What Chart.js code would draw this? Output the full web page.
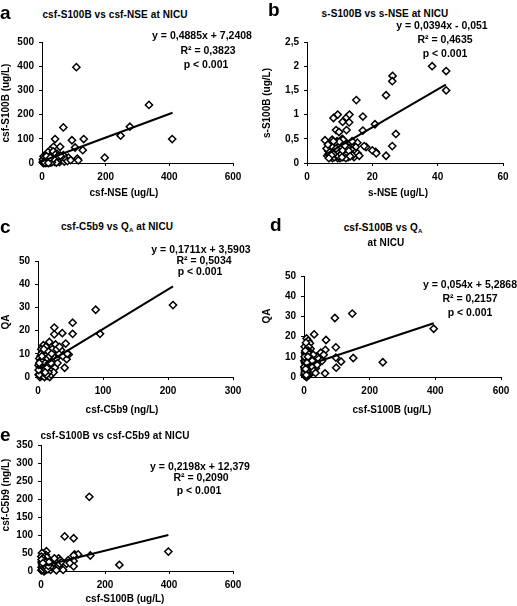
<!DOCTYPE html>
<html>
<head>
<meta charset="utf-8">
<script src="https://cdn.jsdelivr.net/npm/chart.js@4.4.0/dist/chart.umd.min.js"></script>
<style>
    html, body { margin: 0; padding: 0; width: 517px; height: 606px; overflow: hidden; background: #fff; }
    .txt {
        position: absolute; font-family: 'Liberation Sans', Arial, sans-serif; font-weight: bold;
        color: #000; white-space: nowrap; line-height: 1; transform: translate(-50%, -50%);
    }
    .ttl { font-size: 10px; letter-spacing: 0.1px; }
    .eq { font-size: 10.5px; }
    .ax { font-size: 10px; }
    .rot { transform: translate(-50%, -50%) rotate(-90deg); }
    .letter {
        position: absolute; font-family: 'Liberation Sans', Arial, sans-serif; font-weight: bold;
        font-size: 19px; line-height: 1;
    }
    sub { font-size: 6px; vertical-align: -2px; }
</style>
</head>
<body>
<script>
// --- data ---
// a: csf-NSE (x) vs csf-S100B (y)
const aPoints = [
    [108, 396], [336, 240], [276, 150], [247, 113], [409, 99], [197, 22], [67, 147], [131, 99],
    [94, 94], [41, 99], [104, 64], [128, 53], [57, 67], [111, 18], [114, 11], [83, 22], [36, 67],
    [26, 53], [47, 39], [67, 32], [5, 28], [2, 3], [4, 8], [6, 1], [8, 12], [10, 4], [12, 18],
    [14, 6], [16, 25], [18, 2], [20, 10], [22, 30], [24, 15], [27, 5], [30, 20], [32, 40], [34, 10],
    [38, 25], [40, 5], [44, 15], [48, 8], [52, 22], [55, 4], [60, 12], [64, 18], [70, 6], [75, 14],
    [3, 15], [9, 22], [15, 35], [19, 45], [28, 32], [35, 48], [42, 35], [50, 28], [58, 30], [25, 2],
    [12, 0], [5, 0], [45, 2], [80, 8], [90, 12], [7, 6], [11, 10], [17, 14], [21, 20], [23, 8],
    [29, 12], [31, 3], [36, 18], [9, 2], [14, 28], [20, 0], [26, 22]
];
const aTrend = [[0, 7.2], [410, 207.5]];
const aXTicks = ['0', '200', '400', '600'];
const aYTicks = ['0', '100', '200', '300', '400', '500'];

// b: s-NSE (x) vs s-S100B (y)
const bPoints = [
    [38.3, 2.0], [42.6, 1.9], [42.6, 1.5], [26.2, 1.8], [26.1, 1.69], [24.2, 1.4], [15.1, 1.3],
    [17.1, 0.96], [20.8, 0.8], [27.2, 0.6], [26.1, 0.35], [24.2, 0.15], [21, 0.23], [20, 0.26],
    [18.1, 0.33], [17.1, 0.67], [8.1, 0.93], [9.4, 1.0], [12.1, 0.94], [13.0, 1.0], [10.9, 0.85],
    [12.9, 0.84], [12.1, 0.68], [8.9, 0.68], [9.8, 0.64], [5.5, 0.47], [15.4, 0.42], [14.9, 0.33],
    [14.4, 0.23], [14.4, 0.12], [13.3, 0.37], [21.2, 0.2], [17.5, 0.35],
    [6.2, 0.15], [6.5, 0.25], [6.8, 0.35], [7, 0.12], [7.2, 0.2], [7.4, 0.3], [7.6, 0.42], [7.8, 0.1],
    [8, 0.18], [8.2, 0.26], [8.4, 0.38], [8.6, 0.14], [8.8, 0.22], [9, 0.32], [9.2, 0.45], [9.4, 0.1],
    [9.6, 0.2], [9.8, 0.28], [10, 0.4], [10.2, 0.14], [10.4, 0.24], [10.6, 0.34], [10.8, 0.5],
    [11, 0.12], [11.2, 0.2], [11.5, 0.3], [11.8, 0.16], [12, 0.26], [12.3, 0.4], [12.6, 0.12],
    [13, 0.2], [13.5, 0.28], [6.6, 0.18], [7.3, 0.28], [8.3, 0.12], [9.1, 0.16], [10.1, 0.1],
    [11.3, 0.42], [12.5, 0.32], [7.7, 0.48], [9.5, 0.38], [6, 0.3], [14, 0.16], [15.5, 0.2],
    [16, 0.15], [11, 0.48], [13.8, 0.45], [6.9, 0.22], [7.1, 0.4], [7.9, 0.33], [8.5, 0.2],
    [8.7, 0.42], [9.3, 0.25], [9.7, 0.14], [10.3, 0.3], [10.5, 0.18], [10.9, 0.26], [11.6, 0.36],
    [12.2, 0.18], [12.8, 0.25], [6.4, 0.38], [7.5, 0.16], [8.9, 0.3], [9.9, 0.44], [11.9, 0.1],
    [13.2, 0.14], [6.7, 0.1], [8.1, 0.45], [10.7, 0.12]
];
const bTrend = [[5.5, 0.17], [42.5, 1.62]];
const bXTicks = ['0', '20', '40', '60'];
const bYTicks = ['0', '0,5', '1', '1,5', '2', '2,5'];

// c: csf-C5b9 (x) vs QA (y)
const cPoints = [
    [207.7, 31.0], [88.7, 29], [95.4, 18.6], [53.3, 23.4], [53.3, 18.6], [25.1, 21.3], [25.1, 18.4],
    [37.4, 18.9], [42.6, 14.4], [35.4, 11.6], [47.2, 9.7], [44.1, 7.7], [41, 4.0], [8.2, 13.7],
    [17.4, 15.1], [21.5, 13], [1, 1], [2, 3], [3, 6], [4, 9], [5, 2], [6, 5], [7, 11], [8, 1], [9, 4],
    [10, 7], [11, 10], [12, 2], [13, 6], [14, 12], [15, 3], [16, 8], [17, 1], [18, 5], [19, 10],
    [20, 3], [22, 7], [24, 11], [26, 4], [28, 8], [30, 6], [32, 10], [2, 8], [5, 12], [3, 0],
    [6, 0.5], [10, 0], [14, 0.5], [18, 0], [20, 1], [22, 12], [24, 2], [27, 14], [1, 5], [4, 4],
    [8, 8], [12, 13], [16, 2], [23, 9], [29, 12], [33, 13], [38, 9], [45, 10], [19, 6],
    [2, 1], [3, 4], [4, 7], [5, 10], [6, 3], [7, 7], [8, 5], [9, 9], [10, 3], [11, 6], [12, 9],
    [13, 1], [14, 4], [15, 8], [16, 11], [17, 6], [18, 9], [20, 6], [21, 10], [1, 3], [2, 6],
    [6, 9], [9, 12], [11, 2]
];
const cTrend = [[0, 3.6], [207.7, 39.1]];
const cXTicks = ['0', '100', '200', '300'];
const cYTicks = ['0', '10', '20', '30', '40', '50'];

// d: csf-S100B (x) vs QA (y)
const dPoints = [
    [395, 23.9], [147, 31.4], [94, 29.2], [240, 7.3], [150, 9.4], [113, 7.6], [98, 4.6], [64, 1.8],
    [97, 14.7], [67, 18.3], [65, 13.4], [51, 12], [31, 21.1], [39, 10.2], [36, 4.3], [97, 9.6],
    [8, 19.1], [13, 18], [18, 16.7], [20, 14], [22, 8], [1, 1], [2, 4], [3, 7], [4, 10], [5, 13],
    [6, 2], [7, 5], [8, 8], [9, 11], [10, 14], [11, 3], [12, 6], [13, 9], [14, 12], [15, 1], [16, 4],
    [18, 7], [20, 10], [22, 2], [25, 5], [28, 11], [30, 3], [2, 15], [4, 0.5], [6, 12], [8, 0],
    [10, 6], [12, 1], [14, 15], [3, 3], [5, 9], [7, 11], [9, 2], [11, 8], [13, 13], [16, 10],
    [25, 8], [35, 2], [40, 6], [45, 9], [55, 8], [60, 11], [6, 17], [3, 12], [1, 8],
    [2, 2], [3, 5], [4, 8], [5, 11], [6, 6], [7, 9], [8, 3], [9, 13], [10, 1], [11, 12], [2, 10],
    [4, 13], [1, 5], [7, 1], [12, 10], [5, 4], [9, 7]
];
const dTrend = [[0, 5.3], [395, 26.6]];
const dXTicks = ['0', '200', '400', '600'];
const dYTicks = ['0', '10', '20', '30', '40', '50'];

// e: csf-S100B (x) vs csf-C5b9 (y)
const ePoints = [
    [151, 206], [74, 96], [102, 91], [398, 54], [245, 17], [154, 43], [105, 46], [116, 46],
    [102, 43], [102, 28], [102, 13], [69, 3], [55, 35], [17, 55], [1, 2], [2, 10], [3, 20], [4, 30],
    [5, 40], [6, 48], [7, 5], [8, 15], [9, 25], [10, 35], [11, 0], [12, 8], [13, 18], [14, 28],
    [15, 45], [16, 4], [18, 12], [20, 22], [22, 32], [24, 6], [26, 16], [28, 26], [30, 3], [32, 20],
    [35, 10], [38, 28], [40, 18], [45, 8], [50, 25], [55, 15], [60, 30], [3, 50], [1, 40], [6, 30],
    [8, 0], [12, 40], [18, 38], [30, 12], [42, 35], [48, 2], [58, 20], [65, 25], [80, 20], [85, 30],
    [90, 22], [2, 25], [4, 14], [5, 4], [7, 35], [9, 10], [10, 20], [11, 28], [13, 6], [14, 15],
    [16, 25], [17, 10], [19, 18], [21, 5], [23, 14], [25, 25], [2, 32], [6, 22]
];
const eTrend = [[0, 12.4], [398, 99.9]];
const eXTicks = ['0', '200', '400', '600'];
const eYTicks = ['0', '50', '100', '150', '200', '250', '300', '350'];

// --- layout ---
const FONT = "'Liberation Sans', Arial, sans-serif";

const panels = [
    { box: { x: 0, y: 30, w: 258, h: 160 }, area: { l: 42, t: 42, r: 233, b: 163 },
      points: aPoints, trend: aTrend, x: [0, 600, 200, aXTicks], y: [0, 500, 100, aYTicks] },
    { box: { x: 261, y: 30, w: 256, h: 160 }, area: { l: 307, t: 42, r: 503, b: 163 },
      points: bPoints, trend: bTrend, x: [0, 60, 20, bXTicks], y: [0, 2.5, 0.5, bYTicks] },
    { box: { x: 0, y: 250, w: 258, h: 155 }, area: { l: 38, t: 261, r: 233, b: 377 },
      points: cPoints, trend: cTrend, x: [0, 300, 100, cXTicks], y: [0, 50, 10, cYTicks] },
    { box: { x: 261, y: 262, w: 256, h: 143 }, area: { l: 304, t: 276, r: 501, b: 377 },
      points: dPoints, trend: dTrend, x: [0, 600, 200, dXTicks], y: [0, 50, 10, dYTicks] },
    { box: { x: 0, y: 434, w: 258, h: 165 }, area: { l: 41, t: 445, r: 233, b: 571 },
      points: ePoints, trend: eTrend, x: [0, 600, 200, eXTicks], y: [0, 350, 50, eYTicks] }
];

// texts: [html, class, cx, cy]
const texts = [
    ['csf-S100B vs csf-NSE at NICU', 'ttl', 115, 15],
    ['y = 0,4885x + 7,2408', 'eq', 202, 35], ['R² = 0,3823', 'eq', 208, 50], ['p &lt; 0.001', 'eq', 206, 64],
    ['csf-NSE (ug/L)', 'ax', 124, 193], ['csf-S100B (ug/L)', 'ax rot', 6, 103],

    ['s-S100B vs s-NSE at NICU', 'ttl', 385, 14],
    ['y = 0,0394x - 0,051', 'eq', 442, 25], ['R² = 0,4635', 'eq', 445, 39], ['p &lt; 0.001', 'eq', 445, 53],
    ['s-NSE (ug/L)', 'ax', 398, 193], ['s-S100B (ug/L)', 'ax rot', 267, 103],

    ['csf-C5b9 vs Q<sub>A</sub> at NICU', 'ttl', 117, 227],
    ['y = 0,1711x + 3,5903', 'eq', 201, 249], ['R² = 0,5034', 'eq', 204, 260], ['p &lt; 0.001', 'eq', 200, 271],
    ['csf-C5b9 (ng/L)', 'ax', 122, 410], ['QA', 'ax rot', 6, 322],

    ['csf-S100B vs Q<sub>A</sub>', 'ttl', 383, 228], ['at NICU', 'ttl', 386, 243],
    ['y = 0,054x + 5,2868', 'eq', 470, 284], ['R² = 0,2157', 'eq', 470, 298], ['p &lt; 0.001', 'eq', 470, 312],
    ['csf-S100B (ug/L)', 'ax', 392, 410], ['QA', 'ax rot', 267, 316],

    ['csf-S100B vs csf-C5b9 at NICU', 'ttl', 115, 436],
    ['y = 0,2198x + 12,379', 'eq', 200, 466], ['R² = 0,2090', 'eq', 201, 477], ['p &lt; 0.001', 'eq', 199, 490],
    ['csf-S100B (ug/L)', 'ax', 125, 599], ['csf-C5b9 (ng/L)', 'ax rot', 6, 495]
];
const letters = [['a', 0, 3], ['b', 268, 0], ['c', 0, 217], ['d', 270, 215], ['e', 0, 425]];

function axis(range, size, horizontal) {
    const [min, max, step, labels] = range;
    return {
        type: 'linear', min, max,
        afterFit: s => { if (horizontal) s.height = size; else s.width = size; },
        ticks: {
            stepSize: step, autoSkip: false, maxRotation: 0, color: '#000', padding: 5,
            font: { family: FONT, size: 10, weight: 'bold' },
            callback: (v, i) => labels[i]
        },
        grid: { drawOnChartArea: false, drawTicks: true, tickLength: 3, color: '#000', lineWidth: 1 },
        border: { color: '#000', width: 1 },
        title: { display: false }
    };
}

function makePanel(p) {
    const cv = document.createElement('canvas');
    cv.width = p.box.w;
    cv.height = p.box.h;
    cv.style.cssText = `position:absolute;left:${p.box.x}px;top:${p.box.y}px;`;
    document.body.appendChild(cv);
    const yW = p.area.l - p.box.x;
    const xH = p.box.y + p.box.h - p.area.b;
    new Chart(cv, {
        type: 'scatter',
        data: {
            datasets: [
                {
                    data: p.trend.map(([x, y]) => ({ x, y })),
                    showLine: true, borderColor: '#000', borderWidth: 2, pointRadius: 0, clip: false
                },
                {
                    data: p.points.map(([x, y]) => ({ x, y })),
                    pointStyle: 'rectRot', pointRadius: 3.6, borderWidth: 1.5,
                    borderColor: '#000', backgroundColor: '#fff', clip: false
                }
            ]
        },
        options: {
            responsive: false, animation: false, events: [],
            layout: { padding: { top: p.area.t - p.box.y, right: p.box.x + p.box.w - p.area.r, bottom: 0, left: 0 } },
            plugins: { legend: { display: false }, tooltip: { enabled: false } },
            scales: { x: axis(p.x, xH, true), y: axis(p.y, yW, false) }
        }
    });
}

panels.forEach(makePanel);

texts.forEach(([html, cls, x, y]) => {
    const d = document.createElement('div');
    d.className = 'txt ' + cls;
    d.innerHTML = html;
    d.style.left = x + 'px';
    d.style.top = y + 'px';
    document.body.appendChild(d);
});

letters.forEach(([t, x, y]) => {
    const d = document.createElement('div');
    d.className = 'letter';
    d.textContent = t;
    d.style.left = x + 'px';
    d.style.top = y + 'px';
    document.body.appendChild(d);
});
</script>
</body>
</html>
